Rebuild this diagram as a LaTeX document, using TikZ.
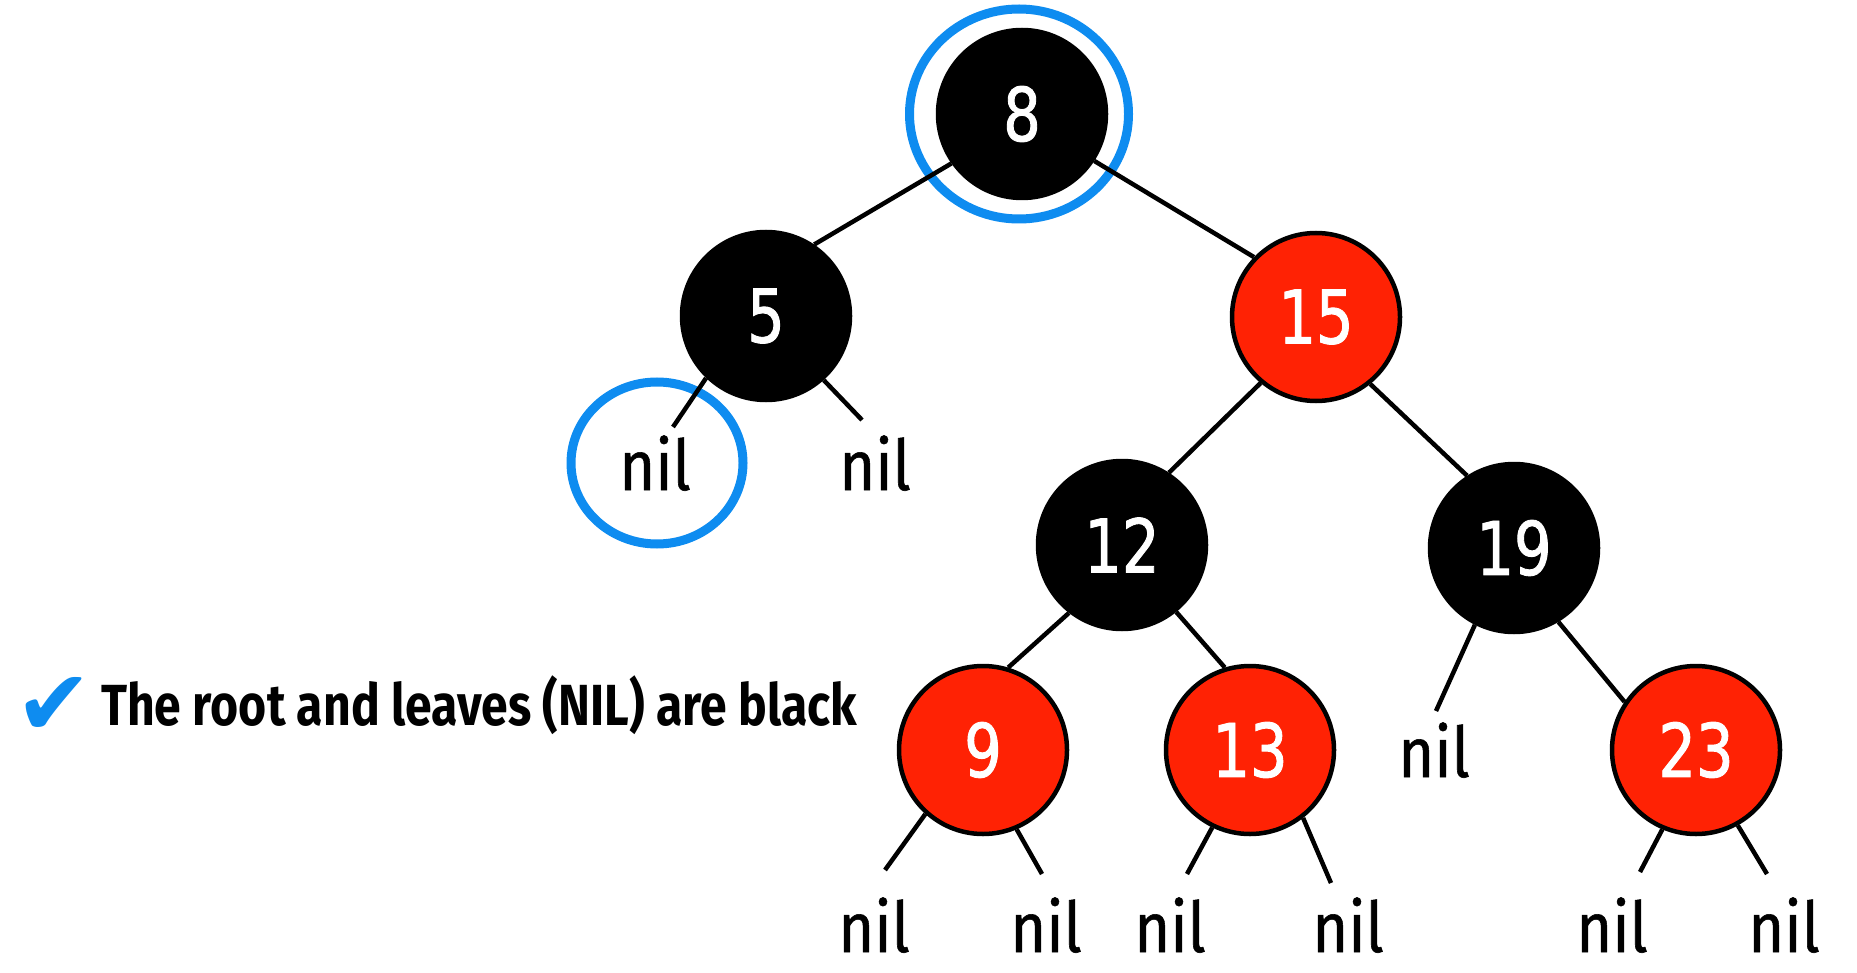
\documentclass[tikz,border=0pt]{standalone}
\usepackage{fontspec}
\usetikzlibrary{shapes.geometric}
\setmainfont{DejaVu Sans}
\newfontfamily\digitfont[FakeStretch=0.8,FakeBold=1.2]{DejaVu Sans}
\newfontfamily\nilfont[FakeStretch=0.88,FakeBold=0.8]{Fira Sans}
\newfontfamily\capfont[FakeStretch=0.83]{Fira Sans}
\newfontfamily\symfont{DejaVu Sans}
\definecolor{rbred}{RGB}{255,34,4}
\definecolor{hiblue}{RGB}{14,140,240}
\pgfdeclarelayer{back}
\pgfdeclarelayer{edges}
\pgfsetlayers{back,edges,main}
\tikzset{
  rbnode/.style={circle, minimum size=168pt, inner sep=0pt, line width=4.5pt,
    font=\digitfont\fontsize{74}{74}\selectfont, text=white},
  blacknode/.style={rbnode, fill=black, draw=black},
  rednode/.style={rbnode, fill=rbred, draw=black},
  nillabel/.style={anchor=base, inner sep=0pt, font=\nilfont\fontsize{70}{70}\selectfont},
  link/.style={line width=4.5pt, draw=black},
  ring/.style={line width=9pt, draw=hiblue}
}
\begin{document}
\begin{tikzpicture}[x=1pt,y=-1pt]
\useasboundingbox (0,0) rectangle (1857,973);

% tree nodes
\node[blacknode] (n8)  at (1022,114) {8};
\node[blacknode] (n5)  at (766,316)  {5};
\node[rednode]   (n15) at (1316,317) {15};
\node[blacknode] (n12) at (1122,545) {12};
\node[blacknode] (n19) at (1514,548) {19};
\node[rednode]   (n9)  at (983,750)  {9};
\node[rednode]   (n13) at (1250,750) {13};
\node[rednode]   (n23) at (1696,750) {23};

% nil leaves
\node[nillabel] (l5a)  at (655,490)  {nil};
\node[nillabel] (l5b)  at (875,490)  {nil};
\node[nillabel] (l19a) at (1434,777) {nil};
\node[nillabel] (l9a)  at (874,952)  {nil};
\node[nillabel] (l9b)  at (1046,952) {nil};
\node[nillabel] (l13a) at (1170,952) {nil};
\node[nillabel] (l13b) at (1348,952) {nil};
\node[nillabel] (l23a) at (1612,952) {nil};
\node[nillabel] (l23b) at (1784,952) {nil};

% ends of the short leaf stubs
\coordinate (s5a)  at (673,427);
\coordinate (s5b)  at (862,420);
\coordinate (s19a) at (1436,711);
\coordinate (s9a)  at (885,870);
\coordinate (s9b)  at (1042,874);
\coordinate (s13a) at (1187,874);
\coordinate (s13b) at (1331,883);
\coordinate (s23a) at (1640,872);
\coordinate (s23b) at (1767,874);

\begin{pgfonlayer}{edges}
  \draw[link] (n8.215)  -- (n5.56);
  \draw[link] (n8.327)  -- (n15.136);
  \draw[link] (n15.230) -- (n12.57);
  \draw[link] (n15.309) -- (n19.123);
  \draw[link] (n12.232) -- (n9.73);
  \draw[link] (n12.309) -- (n13.107);
  \draw[link] (n19.301) -- (n23.146);
  \draw[link] (n5.226)  -- (s5a);
  \draw[link] (n5.312)  -- (s5b);
  \draw[link] (n19.243) -- (s19a);
  \draw[link] (n9.228)  -- (s9a);
  \draw[link] (n9.293)  -- (s9b);
  \draw[link] (n13.244) -- (s13a);
  \draw[link] (n13.308) -- (s13b);
  \draw[link] (n23.247) -- (s23a);
  \draw[link] (n23.299) -- (s23b);
\end{pgfonlayer}

% highlight rings
\begin{pgfonlayer}{back}
  \node[ring, ellipse, minimum width=219pt, minimum height=210pt, inner sep=0pt] (hroot) at (1019,114) {};
  \node[ring, ellipse, minimum width=172pt, minimum height=162pt, inner sep=0pt] (hnil) at (657,463) {};
\end{pgfonlayer}

% caption
\node[text=hiblue, inner sep=0pt, font=\symfont\fontsize{92}{92}\selectfont] (tick) at (54,706) {✔};
\node[anchor=base west, inner sep=0pt, font=\capfont\bfseries\fontsize{58}{58}\selectfont] (caption) at (101,725) {The root and leaves (NIL) are black};
\end{tikzpicture}
\end{document}
